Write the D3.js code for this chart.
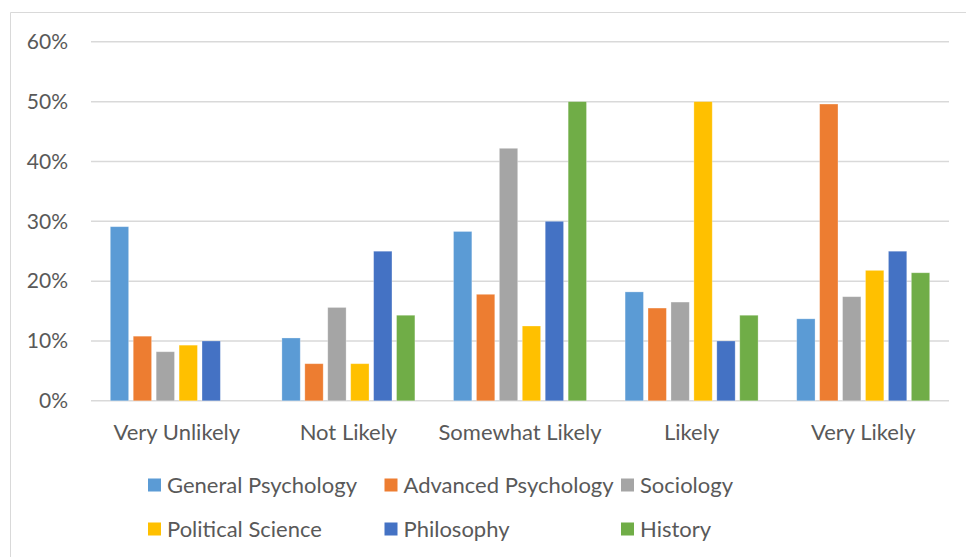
<!DOCTYPE html>
<html>
<head>
<meta charset="utf-8">
<script src="https://cdn.jsdelivr.net/npm/d3@7"></script>
<style>
  html, body { margin: 0; padding: 0; background: #ffffff; }
  svg { display: block; font-family: Lato, "Open Sans", sans-serif; }
</style>
</head>
<body>
<svg id="chart" width="966" height="557"></svg>
<script>
// Response categories along the x axis
const categories = ["Very Unlikely", "Not Likely", "Somewhat Likely", "Likely", "Very Likely"];

// Course groups (one bar per course within each category)
const series = ["General Psychology", "Advanced Psychology", "Sociology", "Political Science", "Philosophy", "History"];

// Share of respondents (%) per course, in category order
const generalPsychology  = [29.1, 10.5, 28.3, 18.2, 13.7];
const advancedPsychology = [10.8,  6.2, 17.8, 15.5, 49.6];
const sociology          = [ 8.2, 15.6, 42.2, 16.5, 17.4];
const politicalScience   = [ 9.3,  6.2, 12.5, 50.0, 21.8];
const philosophy         = [10.0, 25.0, 30.0, 10.0, 25.0];
const history            = [ 0.0, 14.3, 50.0, 14.3, 21.4];

// Y axis ticks
const yTicks = [0, 10, 20, 30, 40, 50, 60];

const colors = ["#5B9BD5", "#ED7D31", "#A5A5A5", "#FFC000", "#4472C4", "#70AD47"];

const valuesBySeries = [generalPsychology, advancedPsychology, sociology, politicalScience, philosophy, history];
const rows = categories.map((c, i) => ({
  category: c,
  values: series.map((s, j) => ({ series: s, value: valuesBySeries[j][i] }))
}));

const svg = d3.select("#chart");
const plot = { left: 91, right: 949, top: 41.8, bottom: 400.8 };
const textColor = "#595959";

// Outer chart frame
svg.append("path")
  .attr("d", "M10.5,600 V12.5 H966")
  .attr("fill", "none")
  .attr("stroke", "#d9d9d9")
  .attr("stroke-width", 1);

const y = d3.scaleLinear().domain([0, 60]).range([plot.bottom, plot.top]);
const x0 = d3.scaleBand().domain(categories).range([plot.left, plot.right]).paddingInner(0).paddingOuter(0);
const inset = x0.bandwidth() * 0.1125;
const x1 = d3.scaleBand().domain(series).range([inset, x0.bandwidth() - inset]).paddingInner(0.2).paddingOuter(0);

// Horizontal gridlines
svg.append("g")
  .selectAll("line")
  .data(yTicks)
  .join("line")
  .attr("x1", plot.left)
  .attr("x2", plot.right)
  .attr("y1", d => y(d))
  .attr("y2", d => y(d))
  .attr("stroke", "#d9d9d9")
  .attr("stroke-width", 1.5);

// Y axis labels
const yAxis = d3.axisLeft(y).tickValues(yTicks).tickFormat(d => d + "%").tickSize(0).tickPadding(0);
const yg = svg.append("g").attr("transform", "translate(68,0)").call(yAxis);
yg.select(".domain").remove();
yg.selectAll("text")
  .attr("fill", textColor)
  .style("font-size", "21px")
  .style("font-family", "Lato, 'Open Sans', sans-serif");

// Bars
svg.append("g")
  .selectAll("g")
  .data(rows)
  .join("g")
  .attr("transform", d => `translate(${x0(d.category)},0)`)
  .selectAll("rect")
  .data(d => d.values.filter(v => v.value > 0))
  .join("rect")
  .attr("x", d => x1(d.series))
  .attr("width", x1.bandwidth())
  .attr("y", d => y(d.value))
  .attr("height", d => y(0) - y(d.value))
  .attr("fill", d => colors[series.indexOf(d.series)])
  .attr("stroke", "#ffffff")
  .attr("stroke-opacity", 0.35)
  .attr("stroke-width", 0.8);

// Category labels
const xAxis = d3.axisBottom(x0).tickSize(0).tickPadding(0);
const xg = svg.append("g").attr("transform", "translate(0,432)").call(xAxis);
xg.select(".domain").remove();
xg.selectAll("text")
  .attr("fill", textColor)
  .attr("y", 0)
  .attr("dy", "0.35em")
  .style("font-size", "22px")
  .style("font-family", "Lato, 'Open Sans', sans-serif");

// Legend: three equal columns, two rows
const legendCols = [148, 384.5, 621];
const legendRows = [485, 529];
const legend = svg.append("g")
  .selectAll("g")
  .data(series)
  .join("g")
  .attr("transform", (d, i) => `translate(${legendCols[i % 3]},${legendRows[Math.floor(i / 3)]})`);
legend.append("rect")
  .attr("x", 0)
  .attr("y", -6.5)
  .attr("width", 13)
  .attr("height", 13)
  .attr("fill", (d, i) => colors[i]);
legend.append("text")
  .attr("x", 19)
  .attr("y", 0)
  .attr("dy", "0.35em")
  .attr("fill", textColor)
  .style("font-size", "22px")
  .text(d => d);
</script>
</body>
</html>
